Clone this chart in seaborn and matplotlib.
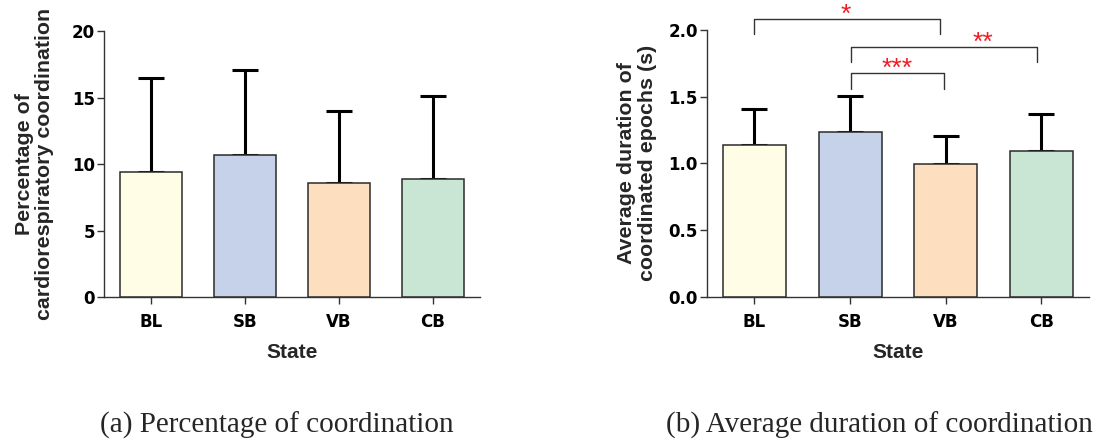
import matplotlib
matplotlib.use("Agg")
import matplotlib.pyplot as plt
import seaborn as sns
import pandas as pd
import numpy as np

# ---- data ----
states = ["BL", "SB", "VB", "CB"]
pct_mean = [9.4, 10.7, 8.6, 8.9]
pct_upper = [16.45, 17.1, 13.98, 15.1]
dur_mean = [1.138, 1.235, 0.998, 1.09]
dur_upper = [1.408, 1.503, 1.203, 1.37]
bar_colors = ["#FFFDE6", "#C5D2E9", "#FDDFBF", "#C9E5D3"]
# significance brackets: (left pos, right pos, top, leg bottom, label, label x)
brackets = [
    (0.0, 1.94, 2.085, 1.97, "*", 0.96),
    (1.01, 2.96, 1.875, 1.76, "**", 2.39),
    (1.01, 1.98, 1.678, 1.557, "***", 1.49),
]
captions = ["(a) Percentage of coordination", "(b) Average duration of coordination"]

sns.set_theme(style="ticks")
plt.rcParams["font.family"] = ["Liberation Sans", "DejaVu Sans"]
plt.rcParams["font.weight"] = "bold"

fig = plt.figure(figsize=(11.07, 4.43), dpi=100)
ax1 = fig.add_axes([104/1107, 1-297/443, (480-104)/1107, (297-31)/443])
ax2 = fig.add_axes([706.7/1107, 1-296.7/443, (1089-706.7)/1107, (296.7-30)/443])

spine_col = "#333333"

def draw(ax, mean, upper, ylim, yticks, fmt, ylabel, labelpad):
    df = pd.DataFrame({"State": states, "val": mean})
    sns.barplot(data=df, x="State", y="val", hue="State", palette=bar_colors,
                legend=False, width=0.66, edgecolor="#2b2b2b", linewidth=1.1,
                saturation=1, errorbar=None, ax=ax, zorder=3)
    x = np.arange(len(states))
    err = np.array(upper) - np.array(mean)
    ax.errorbar(x, mean, yerr=[np.zeros_like(err), err], fmt="none",
                ecolor="black", elinewidth=2.2, capsize=9.5, capthick=2.2,
                zorder=2)
    ax.set_xlim(-0.5, 3.5)
    ax.set_ylim(*ylim)
    ax.set_yticks(yticks)
    ax.set_yticklabels([fmt.format(t) for t in yticks])
    for s in ["top", "right"]:
        ax.spines[s].set_visible(False)
    for s in ["left", "bottom"]:
        ax.spines[s].set_color(spine_col)
        ax.spines[s].set_linewidth(1.0)
    ax.tick_params(axis="both", colors=spine_col, length=5, width=1.0,
                   labelcolor="black")
    ax.tick_params(axis="x", pad=6.5)
    ax.tick_params(axis="y", pad=1.5)
    for lab in ax.get_xticklabels() + ax.get_yticklabels():
        lab.set_fontweight("bold")
        lab.set_family(["DejaVu Sans"])
        lab.set_fontsize(12)
    ax.set_xlabel("State", fontsize=15, fontweight="bold", labelpad=9)
    ax.set_ylabel(ylabel, fontsize=15.4, fontweight="bold", labelpad=labelpad,
                  linespacing=1.12)

draw(ax1, pct_mean, pct_upper, (0, 20), [0, 5, 10, 15, 20], "{:g}",
     "Percentage of\ncardiorespiratory coordination", 12.5)
draw(ax2, dur_mean, dur_upper, (0, 2.0), [0.0, 0.5, 1.0, 1.5, 2.0], "{:.1f}",
     "Average duration of\ncoordinated epochs (s)", 8)

for (l, r, top, bot, lab, lx) in brackets:
    ax2.plot([l, l, r, r], [bot, top, top, bot], color="#333333", lw=1.0,
             clip_on=False, zorder=4)
    ax2.annotate(lab, xy=(lx, top), xytext=(0, -2), textcoords="offset points",
                 color="#EE1C25", fontsize=19, ha="center", va="baseline",
                 fontweight="normal", annotation_clip=False)

fig.text(277/1107, 1-433/443, captions[0], ha="center", va="baseline",
         fontsize=21, family=["Liberation Serif"], fontweight="normal")
fig.text(879/1107, 1-433/443, captions[1], ha="center", va="baseline",
         fontsize=21, family=["Liberation Serif"], fontweight="normal")

fig.savefig("out.png", dpi=100)
